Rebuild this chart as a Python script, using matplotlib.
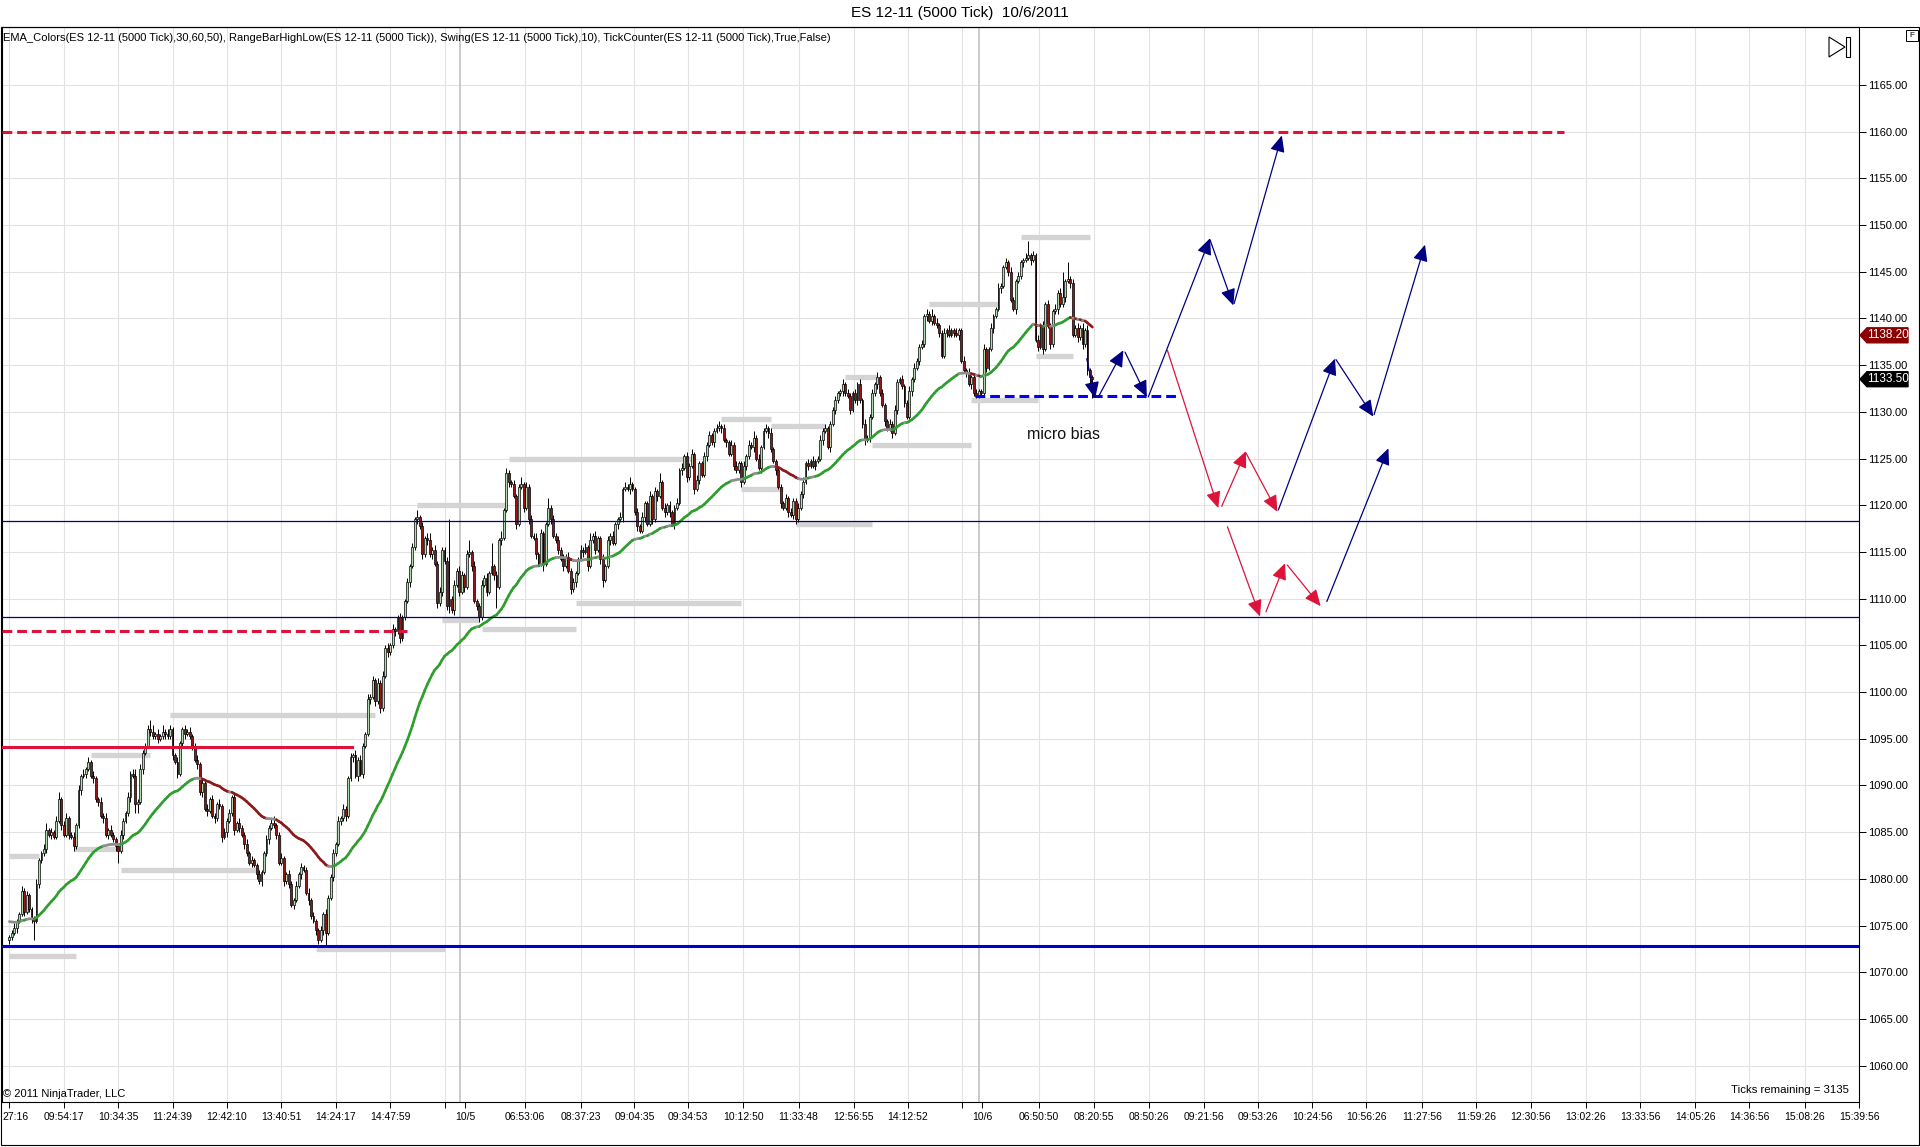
import numpy as np
import matplotlib
matplotlib.use("Agg")
import matplotlib.pyplot as plt
from matplotlib.patches import Rectangle, Polygon, FancyArrowPatch
from matplotlib.collections import LineCollection
import matplotlib.transforms as mtransforms

plt.rcParams['font.family'] = ['Liberation Sans', 'DejaVu Sans']

# ---------------------------------------------------------------- DATA
title = "ES 12-11 (5000 Tick)  10/6/2011"
indicators = ("EMA_Colors(ES 12-11 (5000 Tick),30,60,50), RangeBarHighLow(ES 12-11 (5000 Tick)), "
              "Swing(ES 12-11 (5000 Tick),10), TickCounter(ES 12-11 (5000 Tick),True,False)")
copyright_txt = "\u00a9 2011 NinjaTrader, LLC"
ticks_remaining = "Ticks remaining = 3135"

open_first = 1073.50

close_1004 = [
    1073.75, 1074.25, 1074.75, 1075.50, 1076.25, 1078.75, 1076.50, 1078.25, 1076.75, 1075.75,
    1075.50, 1079.50, 1082.00, 1082.75, 1083.25, 1085.25, 1084.75, 1085.00, 1084.50, 1086.25,
    1088.50, 1085.75, 1084.75, 1086.50, 1084.75, 1084.50, 1083.50, 1085.75, 1089.50, 1091.00,
    1091.25, 1091.75, 1092.50, 1091.00, 1090.75, 1088.50, 1088.25, 1086.75, 1086.50, 1084.75,
    1085.25, 1084.75, 1084.25, 1083.50, 1083.00, 1084.75, 1086.25, 1087.00, 1088.75, 1091.25,
    1091.00, 1088.00, 1088.25, 1091.75, 1093.50, 1094.25, 1096.00, 1095.75, 1095.25, 1095.50,
    1095.00, 1095.25, 1095.75, 1095.50, 1095.25, 1096.00, 1093.25, 1092.50, 1091.25, 1094.50,
    1096.00, 1095.50, 1095.75, 1095.25, 1094.25, 1092.75, 1092.25, 1089.25, 1090.25, 1087.50,
    1087.25, 1088.50, 1086.75, 1086.50, 1088.00, 1087.75, 1084.50, 1085.00, 1086.25, 1087.00,
    1088.75, 1085.25, 1086.00, 1085.50, 1084.75, 1083.75, 1082.75, 1081.75, 1082.00, 1081.50,
    1080.50, 1079.75, 1080.75, 1082.75, 1084.25, 1085.50, 1086.00, 1085.75, 1084.75, 1081.75,
    1082.25, 1079.75, 1080.50, 1079.50, 1077.25, 1077.75, 1079.25, 1080.50, 1081.25, 1081.00,
    1078.50, 1077.75, 1076.00, 1075.50, 1074.50, 1073.50, 1074.50, 1076.25, 1074.25, 1078.00,
    1080.25, 1082.75, 1083.75, 1086.25, 1086.50, 1087.50, 1086.75, 1090.75, 1093.00, 1093.25,
    1091.00, 1092.75, 1091.25, 1094.25, 1095.50, 1099.25, 1099.50, 1101.25, 1099.00, 1101.00,
    1098.25, 1101.75, 1104.75, 1104.25, 1105.00, 1106.75, 1106.50, 1108.00, 1105.75, 1108.00,
    1109.75, 1111.75, 1113.50, 1115.50, 1118.50, 1118.75, 1117.75, 1114.75, 1116.50, 1116.25,
    1114.75, 1115.25, 1113.75, 1109.50, 1110.75, 1115.25, 1114.00, 1109.25, 1110.00, 1108.75,
    1111.50, 1113.00, 1110.75]

close_1005 = [
    1112.50, 1111.25, 1114.75, 1115.00, 1113.50, 1109.75, 1109.25, 1108.00, 1111.50, 1112.25,
    1110.75, 1112.75, 1113.50, 1112.50, 1111.25, 1116.25, 1116.50, 1119.50, 1123.50, 1122.50,
    1122.25, 1121.00, 1118.00, 1122.00, 1122.25, 1119.75, 1122.00, 1118.50, 1116.75, 1116.50,
    1114.75, 1113.75, 1117.00, 1113.75, 1118.00, 1119.75, 1118.50, 1116.75, 1116.25, 1115.25,
    1114.25, 1113.50, 1114.50, 1113.00, 1111.00, 1111.75, 1112.75, 1114.25, 1115.25, 1115.00,
    1115.50, 1113.50, 1116.25, 1116.75, 1115.25, 1116.50, 1114.25, 1112.00, 1113.50, 1116.25,
    1116.75, 1116.00, 1118.00, 1118.50, 1118.75, 1121.75, 1122.00, 1121.75, 1122.25, 1121.75,
    1119.25, 1117.75, 1117.25, 1118.75, 1120.25, 1118.00, 1121.00, 1118.50, 1121.50, 1121.00,
    1122.50, 1119.75, 1119.25, 1120.00, 1119.25, 1118.00, 1119.75, 1120.25, 1123.75, 1124.00,
    1125.25, 1123.00, 1124.25, 1125.50, 1121.75, 1122.75, 1124.50, 1123.25, 1125.25, 1126.50,
    1127.50, 1126.75, 1128.00, 1128.25, 1128.50, 1128.25, 1127.00, 1126.75, 1125.50, 1126.50,
    1124.25, 1123.75, 1124.50, 1122.50, 1124.25, 1125.25, 1126.50, 1126.25, 1127.25, 1125.00,
    1124.00, 1126.25, 1128.00, 1128.25, 1127.75, 1126.00, 1124.75, 1123.75, 1122.00, 1120.25,
    1119.75, 1120.75, 1119.25, 1119.00, 1120.50, 1118.50, 1119.75, 1121.25, 1122.50, 1124.50,
    1124.25, 1124.75, 1124.25, 1124.75, 1125.00, 1127.00, 1128.00, 1128.25, 1126.25, 1128.75,
    1130.25, 1131.25, 1132.00, 1132.25, 1133.00, 1132.00, 1131.75, 1130.25, 1132.00, 1131.25,
    1133.00, 1131.25, 1128.75, 1127.00, 1127.25, 1129.50, 1132.00, 1133.00, 1133.75, 1132.00,
    1130.75, 1129.00, 1128.25, 1128.75, 1127.75, 1130.25, 1133.25, 1133.50, 1132.75, 1131.00,
    1129.50, 1132.25, 1133.50, 1134.75, 1135.50, 1137.00, 1137.25, 1140.25, 1140.50, 1139.75,
    1140.25, 1139.50, 1139.25, 1138.50, 1136.00, 1138.50, 1138.75, 1138.25, 1138.75, 1138.50,
    1138.25, 1138.75, 1135.50, 1134.50, 1134.25, 1133.00, 1133.75, 1132.00, 1131.75, 1132.25]

close_1006 = [
    1132.00, 1136.75, 1134.75, 1136.75, 1139.00, 1140.25, 1141.00, 1143.25, 1143.50, 1145.50,
    1146.00, 1145.00, 1142.00, 1141.00, 1144.00, 1144.50, 1146.00, 1146.25, 1146.50, 1146.75,
    1146.25, 1146.75, 1137.75, 1137.00, 1139.25, 1136.75, 1141.50, 1139.25, 1137.25, 1140.75,
    1141.00, 1142.75, 1141.50, 1142.25, 1144.00, 1144.25, 1143.75, 1138.25, 1139.00, 1138.00,
    1139.00, 1137.25, 1138.75, 1134.50, 1133.75, 1133.50]

# wick length above / below the body, in ticks of 0.25
hi_1004 = [
    1, 1, 2, 1, 1, 2, 1, 2, 1, 1,   1, 2, 1, 1, 2, 3, 1, 2, 1, 2,
    3, 1, 2, 2, 1, 1, 2, 1, 2, 1,   2, 1, 2, 1, 2, 1, 1, 2, 1, 2,
    1, 2, 1, 1, 1, 2, 1, 1, 2, 1,   2, 3, 1, 2, 1, 1, 2, 4, 3, 1,
    2, 1, 3, 1, 2, 2, 1, 1, 2, 1,   1, 2, 1, 2, 1, 1, 2, 1, 2, 1,
    2, 1, 2, 1, 1, 2, 1, 2, 1, 2,   1, 2, 1, 2, 1, 1, 2, 1, 2, 1,
    1, 2, 1, 1, 2, 1, 2, 3, 1, 1,   2, 1, 1, 2, 1, 1, 2, 1, 2, 1,
    1, 2, 1, 2, 1, 1, 2, 1, 2, 1,   1, 2, 1, 2, 1, 2, 1, 1, 2, 1,
    2, 1, 2, 1, 1, 2, 1, 2, 1, 2,   1, 2, 1, 2, 1, 2, 1, 1, 2, 1,
    1, 2, 1, 2, 1, 3, 1, 2, 1, 2,   3, 1, 2, 1, 2, 1, 1, 2, 34, 1,
    2, 1, 2]
lo_1004 = [
    2, 1, 1, 2, 1, 1, 2, 1, 1, 2,   8, 1, 2, 1, 1, 2, 1, 2, 1, 1,
    1, 2, 1, 1, 2, 1, 2, 1, 1, 2,   1, 2, 1, 1, 2, 1, 2, 1, 2, 1,
    2, 1, 1, 2, 5, 1, 2, 1, 1, 2,   1, 4, 4, 1, 2, 1, 1, 2, 1, 1,
    2, 1, 1, 2, 1, 1, 2, 1, 2, 1,   1, 2, 1, 1, 2, 1, 2, 1, 2, 1,
    2, 1, 1, 2, 1, 1, 2, 1, 2, 1,   1, 2, 1, 2, 1, 2, 1, 1, 2, 1,
    2, 1, 2, 1, 1, 2, 1, 1, 2, 1,   1, 2, 1, 2, 1, 2, 1, 1, 2, 1,
    1, 2, 1, 1, 2, 2, 1, 2, 6, 1,   1, 2, 1, 1, 2, 1, 2, 1, 1, 2,
    1, 2, 1, 2, 1, 1, 2, 1, 2, 1,   2, 1, 1, 2, 1, 1, 2, 1, 2, 1,
    1, 1, 2, 1, 1, 2, 1, 2, 1, 2,   1, 2, 1, 2, 1, 2, 1, 2, 3, 1,
    2, 1, 2]
hi_1005 = [
    2, 1, 2, 5, 1, 2, 1, 1, 2, 1,   2, 1, 10, 1, 2, 1, 3, 1, 2, 1,
    1, 2, 1, 1, 3, 1, 2, 1, 2, 1,   2, 1, 2, 1, 1, 4, 1, 2, 1, 2,
    1, 2, 1, 2, 1, 2, 1, 1, 2, 1,   2, 1, 3, 1, 2, 1, 1, 2, 1, 2,
    1, 2, 1, 1, 2, 1, 2, 1, 3, 1,   1, 2, 1, 2, 1, 1, 2, 1, 2, 1,
    4, 1, 2, 1, 2, 1, 1, 2, 1, 2,   1, 2, 1, 2, 1, 2, 1, 1, 2, 1,
    2, 1, 1, 2, 2, 1, 2, 1, 1, 2,   1, 2, 1, 1, 2, 1, 2, 1, 3, 1,
    2, 1, 1, 2, 1, 2, 1, 1, 2, 1,   1, 2, 1, 2, 1, 1, 2, 1, 2, 1,
    2, 1, 2, 1, 1, 2, 1, 2, 1, 1,   1, 2, 1, 1, 2, 1, 2, 1, 1, 2,
    1, 2, 1, 2, 1, 1, 2, 1, 2, 1,   2, 1, 1, 2, 1, 2, 1, 1, 2, 1,
    1, 2, 1, 2, 1, 1, 2, 1, 2, 1,   3, 1, 2, 1, 1, 2, 1, 2, 1, 1,
    2, 1, 1, 2, 1, 2, 1, 1, 2, 1]
lo_1005 = [
    1, 2, 1, 1, 2, 1, 2, 2, 1, 1,   2, 1, 1, 2, 9, 1, 2, 1, 1, 2,
    1, 1, 2, 1, 1, 2, 1, 2, 1, 1,   2, 1, 1, 3, 1, 1, 2, 1, 1, 2,
    1, 2, 1, 1, 2, 1, 2, 1, 1, 2,   1, 2, 1, 1, 2, 1, 2, 3, 1, 1,
    2, 1, 1, 2, 1, 2, 1, 1, 2, 1,   1, 2, 1, 1, 2, 1, 1, 2, 1, 2,
    1, 1, 2, 1, 2, 1, 2, 1, 1, 2,   1, 2, 1, 1, 2, 1, 2, 1, 1, 2,
    1, 1, 2, 1, 1, 2, 1, 2, 1, 1,   2, 1, 1, 2, 1, 2, 1, 1, 2, 1,
    1, 2, 1, 1, 2, 1, 1, 2, 1, 2,   1, 1, 2, 1, 2, 2, 1, 1, 2, 1,
    2, 1, 1, 2, 1, 1, 2, 1, 1, 2,   1, 2, 1, 1, 2, 1, 1, 2, 1, 1,
    2, 1, 2, 2, 1, 2, 1, 1, 2, 1,   1, 2, 1, 1, 2, 1, 2, 1, 1, 2,
    1, 1, 2, 1, 1, 2, 1, 1, 2, 1,   2, 1, 1, 2, 1, 1, 2, 1, 1, 2,
    1, 2, 1, 1, 2, 1, 2, 1, 1, 1]
hi_1006 = [
    1, 2, 1, 1, 2, 1, 1, 2, 1, 1,   2, 1, 2, 1, 1, 2, 1, 1, 2, 6,
    1, 2, 1, 2, 1, 2, 1, 2, 1, 1,   2, 1, 2, 11, 1, 7, 1, 2, 1, 2,
    1, 2, 1, 2, 1, 1]
lo_1006 = [
    1, 1, 2, 1, 1, 2, 1, 1, 2, 1,   1, 2, 1, 1, 2, 1, 1, 2, 1, 1,
    2, 1, 1, 2, 1, 2, 1, 1, 2, 1,   1, 2, 1, 1, 2, 1, 2, 1, 1, 2,
    1, 2, 1, 2, 3, 8]

ema_period = 50
ema_seed = 1075.5
ema_flat = 0.07          # slope (points/bar) below which the EMA is drawn grey

# RangeBarHighLow grey levels: (start bar, end bar, price)
range_levels = [
    (0, 27, 1071.75), (0, 12, 1082.50), (33, 57, 1093.25), (26, 46, 1083.25),
    (65, 148, 1097.50), (45, 101, 1081.00), (124, 176, 1072.50), (165, 201, 1120.00),
    (202, 276, 1125.00), (175, 190, 1107.75), (191, 229, 1106.75), (229, 296, 1109.50),
    (288, 308, 1129.25), (308, 330, 1128.50), (296, 313, 1121.75), (318, 349, 1118.00),
    (338, 351, 1133.75), (349, 389, 1126.50), (372, 400, 1141.50), (389, 416, 1131.25),
    (409, 437, 1148.75), (415, 430, 1136.00)]

# drawn horizontal lines: (price, start bar, end bar)
red_dashed = [(1160.00, -3, 628.6), (1106.50, -3, 161.0)]
red_solid = [(1094.10, -3, 138.5)]
blue_dashed = [(1131.70, 390.5, 472.1)]
navy_thin = [1118.30, 1108.00]
blue_thick = [1072.85]

# drawn arrows: (start bar, start price, tip bar, tip price)
navy_arrows = [
    (435.7, 1135.7, 439.1, 1131.45), (440.4, 1131.6, 450.5, 1136.6),
    (451.2, 1136.4, 460.0, 1131.6), (460.6, 1131.6, 485.6, 1148.6),
    (485.6, 1148.4, 495.0, 1141.4), (495.3, 1141.6, 514.6, 1159.6),
    (513.2, 1119.5, 536.1, 1135.7), (536.5, 1135.6, 551.6, 1129.5),
    (551.9, 1129.7, 572.5, 1147.9), (532.8, 1109.7, 557.7, 1126.1)]
crimson_arrows = [
    (468.3, 1136.6, 488.9, 1119.7), (490.3, 1119.9, 500.1, 1125.8),
    (500.1, 1125.6, 512.8, 1119.3), (492.6, 1117.7, 505.8, 1108.1),
    (508.2, 1108.6, 515.9, 1113.8), (516.8, 1113.6, 530.3, 1109.2)]

note_text = "micro bias"
note_pos = (426.5, 1127.6)

ema_label = 1138.20
last_label = 1133.50

session_breaks = [182.3, 392.3]

tick_labels = ["27:16", "09:54:17", "10:34:35", "11:24:39", "12:42:10", "13:40:51",
               "14:24:17", "14:47:59", "",
               "10/5", "06:53:06", "08:37:23", "09:04:35", "09:34:53", "10:12:50",
               "11:33:48", "12:56:55", "14:12:52", "",
               "10/6", "06:50:50", "08:20:55", "08:50:26", "09:21:56", "09:53:26",
               "10:24:56", "10:56:26", "11:27:56", "11:59:26", "12:30:56", "13:02:26",
               "13:33:56", "14:05:26", "14:36:56", "15:08:26", "15:39:56"]
tick_pos = [0, 22, 44, 66, 88, 110, 132, 154, 176,
            184.3, 208.6, 231, 252.8, 274.5, 296.9, 319.2, 341.5, 363.4, 385.3,
            393.3, 416.4, 438.7, 460.9, 483, 505, 526.8, 548.7, 571.2, 593.1,
            615.2, 637.5, 659.4, 681.7, 703.6, 726, 748]
date_labels = {"10/5", "10/6"}
price_ticks = list(range(1060, 1166, 5))

# ---------------------------------------------------------------- BUILD
closes = np.array(close_1004 + close_1005 + close_1006, dtype=float)
hi_t = np.array(hi_1004 + hi_1005 + hi_1006, dtype=float)
lo_t = np.array(lo_1004 + lo_1005 + lo_1006, dtype=float)
m = min(len(closes), len(hi_t), len(lo_t))
closes, hi_t, lo_t = closes[:m], hi_t[:m], lo_t[:m]
n = m
xs = np.arange(n)
opens = np.concatenate([[open_first], closes[:-1]])
highs = np.maximum(opens, closes) + hi_t * 0.25
lows = np.minimum(opens, closes) - lo_t * 0.25
up = closes >= opens

alpha = 2.0 / (ema_period + 1)
ema = np.empty(n)
e = ema_seed
for k in range(n):
    e = e + alpha * (closes[k] - e)
    ema[k] = e

W, H = 1920, 1147
L, R, T, B = 2, 1859, 27, 1102
fig = plt.figure(figsize=(W / 100, H / 100), dpi=100)
fig.patch.set_facecolor('white')
ax = fig.add_axes([L / W, 1 - B / H, (R - L) / W, (B - T) / H])
ax.set_facecolor('white')
ax.set_xlim(-2.95, 748.0)
ax.set_ylim(1056.11, 1171.21)

ax.set_yticks(price_ticks)
ax.set_yticklabels([f"{v:.2f}" for v in price_ticks])
ax.set_xticks(tick_pos)
ax.set_xticklabels(tick_labels)
ax.yaxis.tick_right()
ax.tick_params(axis='y', direction='out', length=5, width=0.7, labelsize=8, pad=1.5)
ax.tick_params(axis='x', direction='out', length=4.5, width=0.7, labelsize=7.5, pad=2.5)
first_lab = ax.get_xticklabels()[0]
first_lab.set_ha('left')
first_lab.set_transform(first_lab.get_transform() +
                        mtransforms.ScaledTranslation(-7 / 100, 0, fig.dpi_scale_trans))
ax.grid(True, axis='y', color='#e2e2e2', lw=0.8, zorder=0)
for tp, tl in zip(tick_pos, tick_labels):
    if tl not in date_labels:
        ax.axvline(tp, color='#e2e2e2', lw=0.8, zorder=0)
ax.set_axisbelow(True)
for s in ax.spines.values():
    s.set_linewidth(0.8)
    s.set_color('black')

for sb in session_breaks:
    ax.axvline(sb, color='#c6c6c6', lw=1.3, zorder=1)

# range bar high / low levels
for x0, x1, p in range_levels:
    ax.plot([x0, x1], [p, p], color='#d4d4d4', lw=3.8, solid_capstyle='butt', zorder=2)

# candles
ax.vlines(xs, lows, highs, color='black', lw=0.7, zorder=4)
bottoms = np.minimum(opens, closes)
heights = np.maximum(np.abs(closes - opens), 0.1)
ax.bar(xs[up], heights[up], bottom=bottoms[up], width=0.75, color='#b0dcb0',
       edgecolor='black', linewidth=0.5, zorder=5)
ax.bar(xs[~up], heights[~up], bottom=bottoms[~up], width=0.75, color='#951414',
       edgecolor='black', linewidth=0.5, zorder=5)

# EMA coloured by slope
pts = np.column_stack([xs, ema])
segs = np.stack([pts[:-1], pts[1:]], axis=1)
slope = np.diff(ema)
cols = np.where(slope > ema_flat, '#2e9e2e', np.where(slope < -ema_flat, '#8b1a1a', '#8e8e8e'))
ax.add_collection(LineCollection(segs, colors=cols, linewidths=1.9, zorder=6,
                                 capstyle='round'))

# drawn lines
for p, x0, x1 in red_dashed:
    ax.plot([x0, x1], [p, p], color='#dc143c', lw=2.2, linestyle=(0, (3.2, 1.6)), zorder=7)
for p, x0, x1 in red_solid:
    ax.plot([x0, x1], [p, p], color='#dc143c', lw=2.2, zorder=7)
for p, x0, x1 in blue_dashed:
    ax.plot([x0, x1], [p, p], color='#0000ff', lw=2.2, linestyle=(0, (3.2, 1.6)), zorder=7)
for p in navy_thin:
    ax.axhline(p, color='#00008b', lw=0.9, zorder=7)
for p in blue_thick:
    ax.axhline(p, color='#0000cd', lw=2.2, zorder=7)

for (x0, y0, x1, y1), col in ([(a, '#000080') for a in navy_arrows] +
                              [(a, '#dc143c') for a in crimson_arrows]):
    arr = FancyArrowPatch((x0, y0), (x1, y1), arrowstyle='-|>,head_length=10,head_width=4.5',
                          mutation_scale=1, color=col, lw=0.9, shrinkA=0, shrinkB=0, zorder=8)
    ax.add_patch(arr)

ax.text(note_pos[0], note_pos[1], note_text, ha='center', va='center', fontsize=11.5,
        color='#111111', zorder=9)

# header / footer texts
ax.text(0.0006, 0.9895, indicators, transform=ax.transAxes, ha='left', va='center',
        fontsize=8, color='black')
ax.text(0.0006, 0.0075, copyright_txt, transform=ax.transAxes, ha='left', va='center',
        fontsize=8, color='black')
ax.text(0.9946, 0.0115, ticks_remaining, transform=ax.transAxes, ha='right', va='center',
        fontsize=8.2, color='black')
fig.text(0.5, 1 - 13 / H, title, ha='center', va='center', fontsize=11)

# price markers on the right axis
blend = mtransforms.blended_transform_factory(ax.transAxes, ax.transData)
def axx(px):
    return (px - L) / (R - L)
hh = 7.5 / 9.34
for val, col in [(ema_label, '#8b0000'), (last_label, '#000000')]:
    poly = Polygon([(axx(1860), val), (axx(1867), val + hh), (axx(1908), val + hh),
                    (axx(1908), val - hh), (axx(1867), val - hh)], closed=True,
                   transform=blend, facecolor=col, edgecolor=col, clip_on=False, zorder=10)
    ax.add_patch(poly)
    ax.text(axx(1888), val, f"{val:.2f}", transform=blend, ha='center', va='center',
            fontsize=8.5, color='white', clip_on=False, zorder=11)

# outer frame and small icons
def fx(px):
    return px / W
def fy(py):
    return 1 - py / H
fig.add_artist(Rectangle((fx(1), fy(1145)), fx(1918), fy(27) - fy(1145), transform=fig.transFigure,
                         fill=False, ec='black', lw=0.8))
fig.add_artist(Polygon([(fx(1829), fy(37)), (fx(1829), fy(57)), (fx(1845), fy(47))], closed=True,
                       transform=fig.transFigure, fill=False, ec='black', lw=0.8))
fig.add_artist(Rectangle((fx(1846), fy(57)), fx(4), fy(37) - fy(57), transform=fig.transFigure,
                         fill=False, ec='black', lw=0.8))
fig.add_artist(Rectangle((fx(1906), fy(41)), fx(12), fy(30) - fy(41), transform=fig.transFigure,
                         fill=False, ec='black', lw=0.7))
fig.text(fx(1912), fy(35.5), "F", ha='center', va='center', fontsize=6)

fig.savefig("out.png", dpi=100, facecolor='white')
